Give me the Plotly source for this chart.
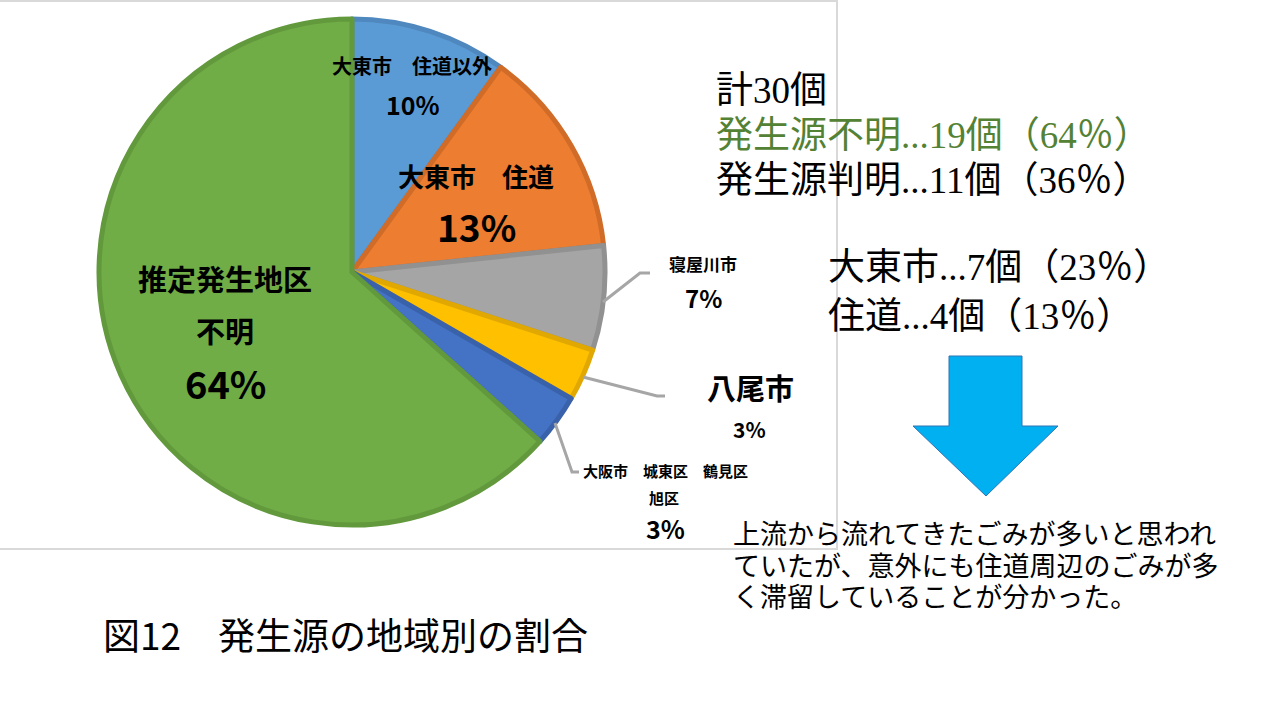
import plotly.graph_objects as go

# ---- data ----
categories = ["大東市　住道以外", "大東市　住道", "寝屋川市", "八尾市",
              "大阪市　城東区　鶴見区　旭区", "推定発生地区不明"]
counts = [3, 4, 2, 1, 1, 19]
pct_labels = ["10%", "13%", "7%", "3%", "3%", "64%"]
label_lines = [["大東市　住道以外"], ["大東市　住道"], ["寝屋川市"], ["八尾市"],
               ["大阪市　城東区　鶴見区", "旭区"], ["推定発生地区", "不明"]]

summary_lines = ["計30個", "発生源不明...19個（64％）", "発生源判明...11個（36％）"]
detail_lines = ["大東市...7個（23％）", "住道...4個（13％）"]
comment_lines = ["上流から流れてきたごみが多いと思われ",
                 "ていたが、意外にも住道周辺のごみが多",
                 "く滞留していることが分かった。"]
caption = "図12　発生源の地域別の割合"

# ---- styles ----
fill_colors = ["#5B9BD5", "#ED7D31", "#A5A5A5", "#FFC000", "#4472C4", "#70AD47"]
edge_colors = ["#4F88BE", "#D06C28", "#919191", "#E0A800", "#3A62AA", "#62993C"]
W, H = 1280, 720
SANS = "Noto Sans CJK JP"
SERIF = "Liberation Serif, Noto Sans CJK JP"

fig = go.Figure()
fig.add_trace(go.Pie(
    labels=categories, values=counts, sort=False, direction="clockwise",
    rotation=0, textinfo="none", hoverinfo="label+percent",
    marker=dict(colors=fill_colors, line=dict(color=edge_colors, width=5)),
    domain=dict(x=[99 / W, 605 / W], y=[1 - 525 / H, 1 - 19 / H]),
    showlegend=False,
))

annotations = []

def add_text(x, y, text, size, color="#000000", bold=False, anchor="center", family=SANS):
    annotations.append(dict(
        x=x, y=y, xref="x", yref="y", text=(f"<b>{text}</b>" if bold else text),
        showarrow=False, xanchor=anchor, yanchor="middle",
        font=dict(size=size, color=color, family=family),
    ))

# label placements (name lines, pct)
placements = [
    ([(412, 65, 20)], (413, 104, 25)),
    ([(476, 175, 26)], (476, 226, 37)),
    ([(703, 263, 17)], (703, 297, 24)),
    ([(750, 387, 29)], (749, 429, 21)),
    ([(665, 470, 15), (664, 497, 15)], (665, 528, 25)),
    ([(225, 278, 29), (225, 330, 29)], (225, 382, 38)),
]
for lines, (name_pos, pct_pos), pct in zip(label_lines, placements, pct_labels):
    for line, (x, y, s) in zip(lines, name_pos):
        add_text(x, y, line, s, bold=True)
    add_text(pct_pos[0], pct_pos[1], pct, pct_pos[2], bold=True)

# right-side summary
summary_colors = ["#000000", "#548235", "#000000"]
for line, y, c in zip(summary_lines, [90, 135, 180], summary_colors):
    add_text(714, y, line, 37, color=c, anchor="left", family=SERIF)
for line, y in zip(detail_lines, [267, 316]):
    add_text(826, y, line, 37, anchor="left", family=SERIF)
for line, y in zip(comment_lines, [535, 567, 598]):
    add_text(731, y, line, 27, anchor="left", family=SERIF)
add_text(101, 634, caption, 37, anchor="left")

shapes = [
    # chart area frame
    dict(type="rect", xref="x", yref="y", x0=-5, y0=1, x1=837, y1=549,
         line=dict(color="#D9D9D9", width=2), fillcolor="rgba(0,0,0,0)", layer="below"),
    # leader lines
    dict(type="path", xref="x", yref="y", path="M603,302 L640,273 L650,273",
         line=dict(color="#A6A6A6", width=3)),
    dict(type="path", xref="x", yref="y", path="M583,377 L657,396 L665,396",
         line=dict(color="#A6A6A6", width=3)),
    dict(type="path", xref="x", yref="y", path="M555,423 L572,472 L579,472",
         line=dict(color="#A6A6A6", width=3)),
    # down arrow
    dict(type="path", xref="x", yref="y",
         path="M949,356 L1022,356 L1022,426 L1058,426 L986,496 L913,426 L949,426 Z",
         fillcolor="#00B0F0", line=dict(color="#2E75B6", width=1)),
]

fig.update_layout(
    width=W, height=H, autosize=False,
    margin=dict(l=0, r=0, t=0, b=0),
    paper_bgcolor="#FFFFFF", plot_bgcolor="#FFFFFF",
    xaxis=dict(range=[0, W], visible=False, fixedrange=True, domain=[0, 1]),
    yaxis=dict(range=[H, 0], visible=False, fixedrange=True, domain=[0, 1]),
    annotations=annotations, shapes=shapes,
)
fig.write_html("out.html")
